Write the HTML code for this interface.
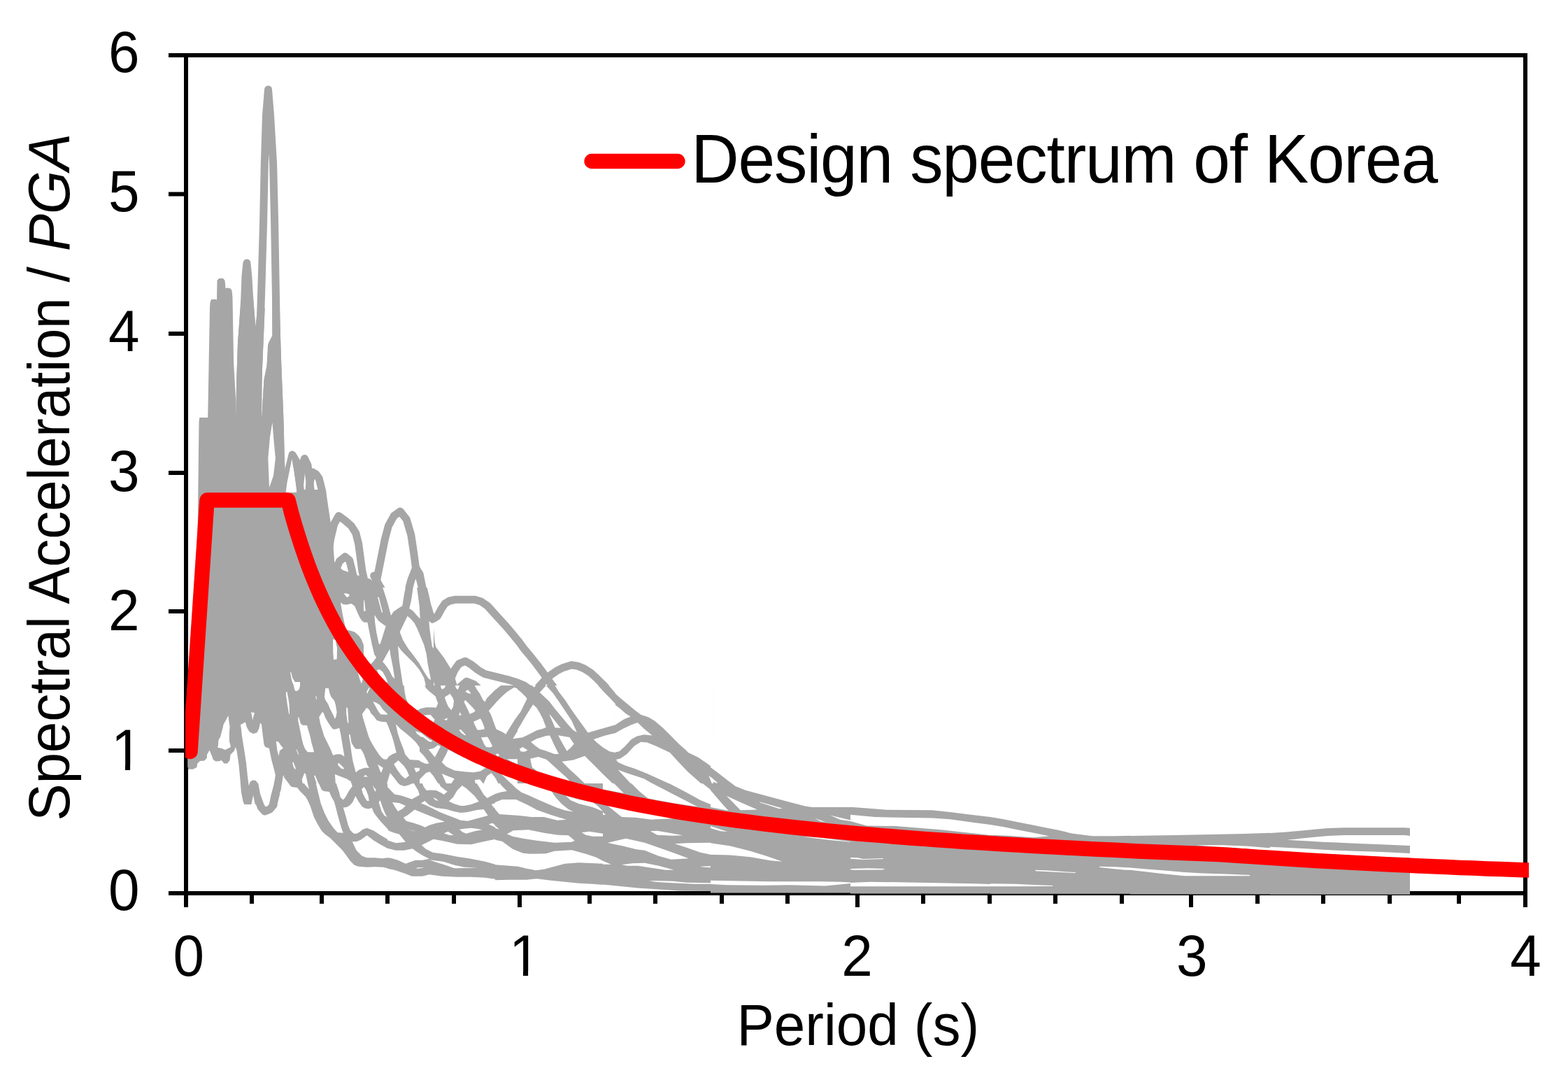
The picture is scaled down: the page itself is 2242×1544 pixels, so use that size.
<!DOCTYPE html>
<html><head><meta charset="utf-8"><title>Spectral Acceleration / PGA vs Period</title>
<style>
html,body{margin:0;padding:0;background:#fff;}
body{width:2242px;height:1544px;overflow:hidden;}
svg{display:block;}
text{font-family:"Liberation Sans",Arial,sans-serif;fill:#000;}
</style></head><body>
<svg width="2242" height="1544" viewBox="0 0 2242 1544" xmlns="http://www.w3.org/2000/svg">
<defs><clipPath id="c1y"><rect x="-10" y="-200" width="400" height="193.3"/><rect x="179.02" y="-20" width="7.07" height="40"/></clipPath><clipPath id="c1x"><rect x="600" y="-200" width="300" height="193.3"/><rect x="748.02" y="-20" width="7.07" height="40"/></clipPath><clipPath id="ht0"><rect x="400" y="980" width="200" height="140"/></clipPath><clipPath id="ht1"><rect x="400" y="840" width="120" height="140"/></clipPath><clipPath id="ht2"><rect x="520" y="840" width="100" height="140"/></clipPath><clipPath id="ht3"><rect x="600" y="980" width="140" height="140"/></clipPath><clipPath id="ht4"><rect x="740" y="980" width="140" height="140"/></clipPath><clipPath id="ht5"><rect x="880" y="980" width="140" height="140"/></clipPath><clipPath id="ht6"><rect x="400" y="1120" width="154" height="154"/></clipPath><clipPath id="ht7"><rect x="554" y="1120" width="154" height="154"/></clipPath><clipPath id="ht8"><rect x="269" y="1010" width="137" height="140"/></clipPath><clipPath id="ht9"><rect x="708" y="1120" width="154" height="154"/></clipPath><clipPath id="ht10"><rect x="862" y="1120" width="154" height="154"/></clipPath><clipPath id="ht11"><rect x="1016" y="1060" width="200" height="216.5"/></clipPath><clipPath id="ht12"><rect x="1216" y="1080" width="200" height="197.5"/></clipPath><clipPath id="ht13"><rect x="1416" y="1080" width="200" height="197.79999999999995"/></clipPath><clipPath id="ht14"><rect x="1616" y="1080" width="200" height="198.5"/></clipPath><clipPath id="ht15"><rect x="1816" y="1080" width="200" height="198.79999999999995"/></clipPath><clipPath id="pa"><rect x="265" y="79" width="1921" height="1200"/></clipPath></defs>
<rect x="0" y="0" width="2242" height="1544" fill="#fff"/>
<g fill="#000">
<rect x="263" y="76" width="1921" height="6"/>
<rect x="263" y="1274" width="1921" height="6"/>
<rect x="263" y="76" width="6" height="1204"/>
<rect x="2178" y="76" width="6" height="1204"/>
<rect x="263" y="1274" width="6" height="23"/>
<rect x="740" y="1274" width="6" height="23"/>
<rect x="1223" y="1274" width="6" height="23"/>
<rect x="1700" y="1274" width="6" height="23"/>
<rect x="2178" y="1274" width="6" height="23"/>
<rect x="357" y="1274" width="6" height="18"/>
<rect x="457" y="1274" width="6" height="18"/>
<rect x="551" y="1274" width="6" height="18"/>
<rect x="646" y="1274" width="6" height="18"/>
<rect x="840" y="1274" width="6" height="18"/>
<rect x="934" y="1274" width="6" height="18"/>
<rect x="1029" y="1274" width="6" height="18"/>
<rect x="1123" y="1274" width="6" height="18"/>
<rect x="1317" y="1274" width="6" height="18"/>
<rect x="1412" y="1274" width="6" height="18"/>
<rect x="1506" y="1274" width="6" height="18"/>
<rect x="1601" y="1274" width="6" height="18"/>
<rect x="1795" y="1274" width="6" height="18"/>
<rect x="1889" y="1274" width="6" height="18"/>
<rect x="1984" y="1274" width="6" height="18"/>
<rect x="2083" y="1274" width="6" height="18"/>
<rect x="241" y="1274" width="25" height="6"/>
<rect x="241" y="1070" width="25" height="6"/>
<rect x="241" y="871" width="25" height="6"/>
<rect x="241" y="673" width="25" height="6"/>
<rect x="241" y="474" width="25" height="6"/>
<rect x="241" y="274.5" width="25" height="6"/>
<rect x="241" y="76" width="25" height="6"/>
</g>
<g clip-path="url(#pa)">
<g fill="none" stroke="#a6a6a6" stroke-width="11" stroke-linejoin="round" stroke-linecap="round">
<polyline points="368.5,600 369.5,527 372,468 373.6,420 376.6,317 378.3,234 380.5,165 383.5,128 386.5,165 390.6,234 392.6,317 394.4,420 395.3,474 396.6,516 397.9,550 399.2,581 400.3,610 401.1,649 403,700"/>
<polyline points="343.5,550 345.5,490 349.7,430 351,395 352.9,376 354.8,395 356.9,430 359.7,466 362,520"/>
<polyline points="380,600 381,575 383,543 387,524 388.5,494 392,520 395,560"/>
<polyline points="405,720 408,700 412,675 418,650 424,660 428,690 432,720"/>
<polyline points="428,700 431,670 435.5,655.5 440,665 443,690 446,720"/>
<polyline points="440,720 443,690 446.8,674.9 452,678 456.2,684.2 460.2,700.3 464.2,727 468.2,753.8 470.9,780.6 473,807"/>
<polyline points="470,790 472.5,771.2 477.7,749.2 484.2,737.6 493.3,744 502.3,751.8 508.8,762.2 512.7,777.7 515.3,797.2 517.9,816.6 521,830"/>
<polyline points="480,815 485.5,802.3 493.3,795.9 499.7,801 503.6,816.6 506.2,829.5 508,840"/>
<polyline points="530,850 535,840 538.6,829.5 541.2,816.6 545.1,797.2 550.3,771.2 555.4,751.8 563.2,737.6 572.3,731.1 581.3,742.7 587.8,764.8 591.7,790.7 594.3,810.1 600.8,829.5 607.3,855.4 613.7,878.8 620,884.4 625.4,880.8 630.9,870.8 636.3,862.7 642.7,859 651.7,857.2 678.9,857.2 688,860 697.1,866.3 706.1,876.3 715.2,886.2 724.3,896.2 733.3,907.1 742.4,918 749.1,927.2 758.1,938.1 767.2,949.4 776.3,961.6 783.5,971.6 790.8,981.6 798.9,992.5 808,1005.2 817.1,1017.9 826.1,1030.5 832.5,1040"/>
<polyline points="347,1128 348.5,1136 352.6,1143.6 356.7,1136 358,1128"/>
<polyline points="367,1130 368.4,1140 373,1153.6 378.4,1160 385.7,1157.2 391.1,1150.9 392.9,1140 394,1130"/>
<polyline points="640.9,960.6 644.5,970.5 649.9,957.9 656.3,948.8 665.3,945.2 674.4,950.6 683.5,957.9 692.5,963.3 710.7,967.8 728.8,972.4 740,976 749.1,979.8 758.1,986.1 767.2,994.3 776.3,1002.4 785.3,1011.5 794.4,1020.6 803.5,1029.7 811.6,1040"/>
<polyline points="620,929.8 630.9,944.3 640.9,960.6 646.3,974.2 648,980"/>
<polyline points="620,957.9 623.6,966.9 627.3,980"/>
<polyline points="658,982 667.1,974.2 678,978.7 684,984"/>
<polyline points="740,1028.7 747.3,1017.9 754.5,1005.2 761.8,993.4 769,983.4 778.1,973.4 787.1,965.3 796.2,958.9 805.3,954.4 817.1,950.8 826.1,952.1 835.2,955.8 844.3,961.6 853.3,969.8 862.4,978.9 871.5,988.4 880,997.9"/>
<polyline points="740,990.7 747.3,995.2 754.5,1000.6 760.9,1006.1 767.2,1012.4 772.6,1019.7 777.2,1028.7 782.6,1040"/>
<polyline points="594.3,812.7 587.8,829.5 582.6,849 578.8,868.4 572.3,873.6 561.9,881.3 555.4,891.7 551.6,900"/>
<polyline points="572.3,873.6 580,875 587.8,878.8 594.3,887.8 598.2,900"/>
<polyline points="594.8,812.4 600,820.4 608.2,860.6 613.5,887.3 616.2,919.4 621.5,940.8 632.2,967.6 643,989"/>
<polyline points="534.7,823 542.5,837.3 551.6,852.8 555.4,868.4 559.3,881.3"/>
</g>
<g fill="#a6a6a6">
<polygon points="300.4,433 302,428 309,428 310,429 310.5,401 313,398 319,398 321.5,401 322.5,412 326,411.5 329.5,412.5 331.5,415 332.5,425 334.1,518.4 337.4,575.4 337,600 297,600 297.2,596 300,440"/>
<polygon points="345,425 362,425 365.2,466.6 368.4,440 378.8,440 377.5,468 376.2,497.7 375,527.5 373.6,560 374.3,597.5 375.6,575.4 377.5,543 381.4,523.6 384,490 389.2,480 389.2,425 399.5,425 400.8,474.4 402.1,515.9 403.4,549.5 404.7,580.6 405.8,610.4 406.6,649 408.7,704 412,715 419,742 433.6,788 457.5,849 481.4,897 505.4,935 529.3,966 553.3,992 560,1000 540,1020 470,1030 462,1017 456,1017 444,1025 427,1025 420,1040 400,1050 380,1040 374,1033 360,1040 344,1033 338,1050 336.6,1068.6 335,1071.7 328.7,1078 327,1087.6 320.7,1090.8 316,1087.6 304.9,1086 299.3,1073.3 293.7,1086 284.2,1087.6 281,1092.4 275,1099 268.3,1097 268,1060 272,1000 280,900 283,730 284.5,602.4 285.3,597 337,597 338,549.5 340,490"/>
<polygon points="415,700 466,700 470,760 474,800 490,815 510,822 530,828 542,840 545,860 520,862 505,858 490,860 483,870 480,900 470,900 420,780"/>
</g>
<g fill="#a6a6a6">
<rect x="400" y="980" width="200" height="140"/>
<rect x="400" y="840" width="120" height="140"/>
<rect x="520" y="840" width="100" height="140"/>
<rect x="600" y="980" width="140" height="140"/>
<rect x="740" y="980" width="140" height="140"/>
<rect x="880" y="980" width="140" height="140"/>
<rect x="400" y="1120" width="154" height="154"/>
<rect x="554" y="1120" width="154" height="154"/>
<rect x="269" y="1010" width="137" height="140"/>
<rect x="708" y="1120" width="154" height="154"/>
<rect x="862" y="1120" width="154" height="154"/>
<rect x="1016" y="1060" width="200" height="216.5"/>
<rect x="1216" y="1080" width="200" height="197.5"/>
<rect x="1416" y="1080" width="200" height="197.79999999999995"/>
<rect x="1616" y="1080" width="200" height="198.5"/>
<rect x="1816" y="1080" width="200" height="198.79999999999995"/>
</g>
<g fill="#fff">
<polygon points="389.4,604 391.5,630 393.9,655 391,680 385,697 383.3,655 386,625"/>
<polygon points="417.4,656 424,700 424,704 408.7,704 410.5,690"/>
<polygon points="311.2,1068.6 313.3,1060 320,1035 326.5,1023 327.3,1040 328,1060 330,1068 322,1072 317,1070"/>
<g clip-path="url(#ht0)"><polygon points="419.95,980.0 429.01,980.0 428.11,984.53 425.39,987.71 422.21,987.71 420.85,984.53"/><polygon points="409.07,989.07 410.43,989.07 412.24,998.13 413.6,1007.2 414.05,1020.8 413.15,1020.8 410.88,1007.2 409.07,994.51"/><polygon points="465.28,983.63 469.81,984.08 471.62,991.79 473.44,996.32 477.97,1001.76 479.78,1007.2 481.6,1018.08 480.69,1023.52 478.88,1028.05 477.06,1023.52 472.53,1014.45 468.9,1006.29 465.28,1000.85 463.92,996.32"/><polygon points="451.22,994.96 452.13,994.96 453.04,999.49 452.13,999.95"/><polygon points="495.19,1011.73 497.01,1011.73 497.91,1023.52 498.37,1033.49 497.01,1033.49 495.19,1020.8"/><polygon points="524.21,989.07 527.83,982.72 528.74,983.63 525.11,991.79"/><polygon points="533.27,1003.12 537.81,1004.48 543.25,1008.11 546.87,1013.54 554.13,1020.8 554.13,1021.7 544.15,1021.25 540.53,1016.26 535.99,1008.11"/><polygon points="517.86,1020.8 524.21,1011.73 527.83,1014.45 530.55,1019.89 534.18,1023.52 538.71,1029.86 545.06,1031.68 552.31,1032.13 555.03,1038.02 557.75,1045.28 560.47,1052.53 563.19,1061.6 565.0,1068.85 566.82,1076.1 561.38,1077.91 555.94,1081.54 553.22,1085.62 548.69,1085.62 545.06,1082.45 541.43,1077.91 535.99,1069.76 529.65,1058.88 526.93,1052.53 524.21,1043.46 521.49,1034.4 518.77,1025.33"/><polygon points="426.29,1025.33 427.2,1025.33 429.92,1034.4 432.64,1036.66 438.98,1037.12 440.8,1043.46 443.52,1052.53 445.33,1061.6 448.05,1070.66 448.96,1075.19 439.89,1075.19 436.26,1070.66 433.54,1064.32 431.73,1057.06 429.92,1048.0 428.11,1038.93 426.29,1030.77"/><polygon points="456.21,1025.33 460.74,1018.08 462.56,1018.98 465.28,1026.24 468.9,1032.58 472.53,1038.02 476.16,1042.56 479.78,1042.56 485.22,1040.74 487.04,1048.9 488.85,1059.78 490.66,1070.66 492.48,1081.54 489.76,1079.73 487.04,1078.37 481.6,1078.37 476.16,1079.73 472.53,1070.66 468.0,1061.6 463.46,1052.53 460.74,1043.46 458.02,1034.4"/><polygon points="498.82,1050.72 500.63,1049.81 502.45,1061.6 506.07,1067.94 508.79,1070.66 516.05,1070.66 519.67,1077.01 522.39,1084.26 525.11,1093.33 527.83,1097.86 521.49,1097.86 513.33,1100.58 508.79,1104.21 506.98,1097.86 504.26,1086.98 502.45,1075.19 500.63,1061.6"/><polygon points="565.91,1035.3 572.26,1041.65 581.32,1048.9 588.58,1055.25 594.92,1061.6 600.0,1068.85 600.0,1086.98 585.86,1086.07 579.51,1078.82 576.79,1070.66 572.26,1058.88 568.63,1048.0"/><polygon points="577.7,980.0 600.0,980.0 600.0,1014.45 594.92,1015.36 590.39,1010.83 584.04,1006.29 580.42,998.13 578.6,989.07"/><polygon points="594.02,1045.28 600.0,1047.09 600.0,1051.62 596.74,1049.81"/><polygon points="563.19,1092.42 569.54,1086.98 577.7,1095.14 581.32,1100.58 584.95,1108.74 579.51,1113.27 574.07,1108.74 568.63,1101.49"/><polygon points="540.07,1092.87 547.78,1097.86 545.06,1105.11 543.25,1101.49"/><polygon points="592.2,1097.86 600.0,1097.86 600.0,1101.49 594.92,1104.21"/><polygon points="483.41,1090.61 485.22,1091.51 491.57,1097.86 491.57,1099.67 487.94,1098.77 483.41,1094.23"/><polygon points="400.0,1065.22 404.53,1068.85 400.0,1073.38"/><polygon points="418.13,1089.7 419.49,1089.7 422.67,1097.86 422.21,1100.58 419.49,1096.05"/><polygon points="423.57,1071.57 424.48,1071.57 427.2,1078.82 426.29,1078.82"/><polygon points="519.67,1110.55 522.39,1107.83 526.02,1110.55"/><polygon points="478.88,1106.93 486.13,1109.65 495.19,1113.27 501.54,1116.9 502.45,1119.98 479.78,1119.98"/><polygon points="553.22,1119.98 557.75,1105.11 563.19,1111.46 569.54,1119.98"/><polygon points="431.73,1114.18 435.36,1105.11 437.17,1106.93 439.89,1119.98 432.64,1119.98"/><polygon points="403.63,1119.98 405.44,1110.55 411.79,1118.71 412.69,1119.98"/><polygon points="448.96,1108.74 450.77,1108.74 455.3,1119.98 452.58,1119.98"/></g>
<g clip-path="url(#ht1)"><polygon points="491.57,848.16 496.1,848.61 499.73,849.97 498.82,852.69 496.1,854.05 493.38,850.88"/><polygon points="487.04,861.31 490.66,864.03 495.19,864.48 502.45,863.12 506.98,866.29 510.61,874.45 514.23,882.61 517.86,888.05 525.11,890.77 526.02,898.02 528.74,910.72 531.46,921.6 534.18,930.66 537.81,938.82 535.09,944.26 530.55,949.7 526.93,943.35 523.3,933.38 519.67,921.6 516.95,914.34 513.33,908.9 506.98,903.46 501.54,901.65 496.1,900.74 494.29,898.02 492.48,890.77 489.76,878.08 487.94,867.2"/><polygon points="476.16,913.44 479.78,915.25 482.05,927.04 481.6,942.45 477.06,942.9 476.16,930.66"/><polygon points="414.96,961.03 416.32,961.49 418.13,968.74 421.76,975.09 429.01,975.09 429.01,979.98 419.95,979.98 417.23,973.27"/><polygon points="511.51,960.58 518.77,970.55 516.95,977.81 514.23,970.55"/></g>
<g clip-path="url(#ht2)"><polygon points="547.2,840.0 579.84,840.0 578.02,849.07 575.3,866.29 568.96,869.92 562.61,874.45 558.98,879.89 554.45,862.67 550.83,850.88"/><polygon points="590.72,840.0 596.16,840.0 597.97,853.6 599.78,867.2 600.69,884.42 596.16,879.89 590.72,873.54 585.28,869.92 588.0,858.13"/><polygon points="610.66,840.0 620.0,840.0 620.0,876.26 616.1,863.57 613.38,850.88"/><polygon points="520.0,858.13 520.91,858.13 522.72,873.54 520.0,873.54"/><polygon points="539.95,853.6 541.76,854.05 547.2,875.36 545.84,875.81"/><polygon points="535.41,878.98 540.85,887.14 545.39,890.77 551.73,895.3 549.01,903.46 546.29,912.53 543.57,920.69 541.76,920.69 538.13,903.46 536.32,890.77"/><polygon points="520.0,889.86 525.44,889.86 528.16,903.46 531.79,921.6 535.41,936.1 538.13,939.73 533.6,946.07 529.97,949.7 525.44,944.26 521.81,939.73 520.0,937.91"/><polygon points="571.68,903.46 582.56,880.8 587.09,884.42 592.53,890.77 597.06,899.84 601.6,910.72 606.13,921.6 609.76,935.19 611.57,948.79 614.29,962.39 616.1,972.37 612.48,969.65 607.04,961.49 599.78,948.79 592.53,938.82 583.46,927.04 576.21,915.25"/><polygon points="613.38,888.05 617.01,890.77 620.0,890.77 620.0,927.04 617.91,924.32 616.1,912.53 614.29,898.93"/><polygon points="568.96,923.41 574.4,930.66 583.46,939.73 592.53,948.79 599.78,957.86 606.13,968.74 608.85,979.98 576.21,979.98 573.49,962.39 570.77,944.26"/><polygon points="547.2,946.07 557.17,927.94 558.98,939.73 561.7,953.33 564.42,970.55 560.8,966.93 556.26,957.86 551.73,951.51"/><polygon points="539.04,957.86 542.67,956.95 547.2,960.58 551.73,968.74 554.45,975.99 549.92,974.18 542.67,966.93"/></g>
<g clip-path="url(#ht3)"><polygon points="600.0,980.0 607.25,980.0 609.07,983.63 614.51,989.07 622.67,995.41 624.48,1000.85 626.29,1005.39 623.57,1011.73 618.13,1011.28 609.07,1011.28 600.0,1013.54"/><polygon points="629.92,980.0 637.17,980.0 636.26,982.72 632.64,985.44 630.83,983.63"/><polygon points="650.77,980.0 657.12,980.0 655.3,984.53 654.4,985.89 652.13,983.63"/><polygon points="678.88,980.0 716.05,980.0 706.98,987.25 701.54,992.69 696.1,998.13 693.38,1003.57 690.66,1000.85 686.13,991.79 681.6,985.44"/><polygon points="735.09,982.72 739.98,984.53 739.98,1023.52 735.99,1028.96 731.46,1036.21 726.93,1043.46 723.3,1049.81 717.86,1046.18 709.7,1042.56 707.89,1038.02 704.26,1028.05 701.54,1020.8 698.82,1016.26 704.26,1009.92 710.61,1002.67 717.86,995.41 725.11,989.07"/><polygon points="665.28,988.61 668.9,985.89 672.53,989.97 673.44,991.79 668.9,990.88"/><polygon points="635.81,996.77 643.52,991.79 647.14,997.23 648.96,1001.76 648.05,1009.92 645.33,1015.36 640.8,1009.92 638.08,1003.57"/><polygon points="663.46,1003.57 665.28,1000.85 670.72,1006.29 675.25,1010.83 679.78,1016.26 676.16,1018.98 671.62,1020.8 668.9,1014.45 666.18,1009.01"/><polygon points="656.21,1022.61 657.57,1018.08 659.84,1022.61"/><polygon points="634.45,1028.96 639.89,1026.24 638.98,1029.86"/><polygon points="677.06,1031.68 687.04,1027.14 689.76,1032.58 692.48,1039.84 692.48,1042.56 686.13,1043.46 682.5,1043.46 678.88,1036.21"/><polygon points="606.35,1022.61 615.41,1021.7 621.76,1028.96 619.95,1032.13 616.32,1030.77 609.07,1026.24"/><polygon points="656.21,1043.46 658.93,1043.01 666.18,1050.72 664.37,1051.17 659.84,1048.0"/><polygon points="687.94,1054.34 697.01,1053.44 699.73,1057.97 704.26,1067.04 700.63,1068.4 695.19,1067.94 692.48,1064.32"/><polygon points="733.27,1056.16 739.98,1045.28 739.98,1055.25"/><polygon points="600.0,1047.54 601.81,1047.54 608.16,1052.53 613.6,1057.06 618.13,1058.88 616.32,1060.69 612.69,1059.78 605.44,1054.34 600.0,1052.53"/><polygon points="612.69,1071.57 619.95,1069.76 626.29,1065.22 629.92,1067.04 625.39,1076.1 621.76,1082.45 618.13,1077.91"/><polygon points="600.0,1074.29 605.44,1079.73 610.88,1086.98 613.6,1091.51 609.07,1091.97 603.63,1089.7 600.0,1087.89"/><polygon points="631.73,1089.7 638.08,1077.91 640.8,1071.57 654.4,1078.82 672.53,1086.98 686.13,1092.42 695.19,1096.95 687.04,1102.39 677.06,1104.21 663.46,1103.3 649.86,1101.49 638.08,1096.05"/><polygon points="708.79,1078.82 711.51,1077.01 714.23,1079.73 711.51,1081.54"/><polygon points="725.11,1085.17 739.98,1085.17 739.98,1092.42 731.46,1088.79"/><polygon points="600.0,1114.18 609.07,1105.11 614.51,1103.3 619.95,1109.65 626.29,1119.98 600.0,1119.98"/><polygon points="631.73,1106.02 640.8,1109.65 649.86,1113.27 645.33,1119.98 638.08,1119.98"/><polygon points="678.88,1115.09 686.13,1114.18 690.66,1119.98 679.78,1119.98"/><polygon points="696.1,1109.65 702.45,1105.11 707.89,1111.46 712.42,1119.98 691.57,1119.98"/><polygon points="716.95,1106.93 726.93,1110.55 739.98,1115.09 739.98,1119.98 730.55,1119.98"/></g>
<g clip-path="url(#ht4)"><polygon points="740.0,985.44 745.44,989.97 751.79,996.32 753.6,999.04 749.97,1006.29 744.53,1017.17 740.0,1023.52"/><polygon points="760.85,980.0 766.29,980.0 763.57,982.72"/><polygon points="771.73,989.97 780.8,980.0 790.77,990.88 798.93,1002.67 808.0,1016.26 817.06,1029.86 824.77,1046.64 819.78,1043.92 812.53,1036.21 803.46,1025.33 794.4,1014.45 785.33,1002.67"/><polygon points="793.49,980.0 855.14,980.0 863.3,989.07 872.37,998.13 879.98,1006.29 879.98,1036.21 857.86,1042.56 840.63,1047.54 835.19,1039.84 826.13,1027.14 817.06,1014.45 808.0,1000.85 798.93,989.07"/><polygon points="870.55,980.0 879.98,980.0 879.98,990.88"/><polygon points="762.21,1007.2 767.2,1011.73 771.73,1018.98 776.26,1028.05 780.8,1039.84 776.26,1041.65 767.2,1044.37 758.13,1048.9 747.25,1054.34 740.0,1055.25 740.0,1043.46 745.44,1034.4 751.79,1023.52 758.13,1013.54"/><polygon points="785.33,1021.25 787.14,1022.61 794.4,1031.68 801.65,1040.74 793.49,1040.29 790.77,1033.49"/><polygon points="759.04,1060.69 767.2,1056.16 780.8,1052.08 786.24,1051.62 790.77,1061.6 795.3,1070.66 798.93,1077.91 792.58,1077.91 780.8,1073.38 771.73,1070.66 765.39,1066.13"/><polygon points="798.02,1051.17 814.34,1053.89 820.69,1063.41 817.06,1067.94 810.72,1073.83 806.18,1066.13 801.65,1057.97"/><polygon points="742.72,1070.66 747.25,1067.94 754.51,1072.48 749.97,1074.74 744.53,1074.29"/><polygon points="848.79,1057.06 865.11,1051.62 879.98,1048.0 879.98,1076.1 871.46,1074.29 862.39,1068.85 853.33,1061.6"/><polygon points="758.13,1084.71 769.92,1081.99 781.7,1086.07 790.77,1094.23 799.84,1102.39 808.9,1110.55 817.97,1119.98 786.24,1119.98 778.08,1111.46 769.01,1103.3 760.85,1096.95"/><polygon points="803.46,1088.79 819.78,1086.53 836.1,1080.63 848.79,1093.33 862.39,1106.93 875.99,1119.98 836.1,1119.98 826.13,1110.55 814.34,1099.67"/></g>
<g clip-path="url(#ht5)"><polygon points="880.0,980.0 1019.98,980.0 1019.98,1097.86 1009.65,1090.61 997.86,1082.45 984.26,1076.1 979.73,1071.57 970.66,1063.41 959.78,1052.53 948.0,1040.74 936.21,1030.77 927.14,1025.33 916.26,1021.7 909.01,1016.26 898.13,1007.2 887.25,998.13 880.0,991.79"/><polygon points="880.0,1008.11 887.25,1013.54 894.51,1019.89 901.76,1024.42 892.69,1028.05 885.44,1032.58 880.0,1036.21"/><polygon points="880.0,1048.0 890.88,1041.65 902.67,1036.21 911.73,1033.04 920.8,1041.65 932.58,1051.62 920.8,1050.26 910.83,1052.53 902.67,1057.06 893.6,1067.04 885.44,1074.29 880.0,1075.19"/><polygon points="880.91,1086.07 887.25,1084.26 896.32,1077.91 907.2,1066.13 916.26,1060.69 925.33,1061.6 938.93,1067.04 957.97,1076.1 968.85,1087.89 983.35,1103.3 997.86,1115.99 1002.39,1119.98 956.16,1119.98 943.46,1114.18 925.33,1106.02 907.2,1098.77 893.6,1094.23 883.63,1089.7"/><polygon points="883.63,1100.58 893.6,1104.21 907.2,1108.74 920.8,1113.27 932.58,1119.98 901.76,1119.98 894.51,1112.37"/><polygon points="1013.27,1108.74 1019.98,1114.18 1019.98,1119.98 1017.81,1119.98"/></g>
<g clip-path="url(#ht6)"><polygon points="402.99,1120.0 412.97,1120.0 413.96,1121.99 416.96,1124.99 424.94,1125.98 428.92,1130.97 436.9,1138.95 439.9,1143.94 443.89,1152.91 448.87,1167.88 453.86,1177.85 459.84,1187.82 464.83,1192.81 471.81,1197.8 476.8,1202.78 481.79,1207.77 489.77,1215.75 495.75,1223.73 500.74,1230.71 506.72,1236.7 512.71,1238.69 524.68,1239.69 535.65,1239.19 547.62,1239.69 554.0,1241.18 554.0,1274.0 400.0,1274.0 400.0,1133.96 401.99,1129.97"/><polygon points="434.91,1120.0 439.9,1120.0 441.89,1127.98 437.9,1123.99"/><polygon points="451.87,1120.0 455.85,1120.0 459.84,1128.98 462.84,1130.97 470.82,1131.97 473.81,1138.95 477.8,1145.93 479.79,1152.91 482.78,1164.88 485.78,1175.85 488.77,1185.83 490.76,1190.82 482.78,1190.32 476.8,1183.83 469.82,1173.86 463.83,1161.89 458.85,1148.92 454.86,1132.97"/><polygon points="480.79,1120.0 502.73,1120.0 503.73,1123.99 498.74,1130.97 493.76,1139.95 490.76,1143.44 486.77,1139.95 484.78,1131.97 482.78,1125.98"/><polygon points="517.2,1127.98 520.69,1124.99 523.68,1129.97 526.67,1137.95 527.67,1144.94 524.68,1144.94 521.68,1139.95 518.69,1133.96"/><polygon points="532.66,1122.99 537.64,1128.98 536.64,1131.97 534.65,1127.98"/><polygon points="490.76,1154.41 495.75,1153.91 500.74,1150.92 504.73,1145.93 508.22,1137.95 512.71,1145.93 517.69,1152.91 521.68,1155.41 526.67,1156.41 531.66,1154.91 534.65,1161.89 539.64,1168.87 544.62,1174.86 554.0,1184.83 554.0,1199.79 543.63,1193.81 534.65,1187.82 524.68,1183.83 518.69,1185.83 513.7,1189.82 509.71,1191.81 505.73,1191.81 500.74,1186.83 497.75,1179.84 494.75,1167.88"/><polygon points="541.63,1146.93 543.63,1143.94 546.62,1152.91 550.61,1162.89 553.6,1167.88 549.61,1165.88 545.62,1159.9"/><polygon points="503.73,1203.28 509.71,1203.28 515.7,1200.79 524.68,1194.31 534.65,1201.79 544.62,1207.77 554.0,1212.76 554.0,1226.22 546.62,1227.22 535.65,1226.22 524.68,1226.22 517.69,1223.73 509.71,1215.75"/></g>
<g clip-path="url(#ht7)"><polygon points="554.0,1120.0 569.96,1120.0 571.95,1121.99 577.94,1123.99 583.92,1122.49 589.91,1120.0 591.9,1120.0 597.89,1129.97 599.88,1136.46 588.91,1142.44 573.95,1137.45 563.97,1135.46 554.0,1124.99"/><polygon points="603.87,1120.0 627.81,1120.0 629.8,1123.99 635.79,1128.98 639.78,1131.47 634.79,1135.96 631.8,1133.96 623.82,1129.97 615.84,1129.48 609.85,1129.97 605.87,1124.99"/><polygon points="641.77,1145.43 647.76,1139.95 653.74,1129.97 660.72,1122.99 666.71,1126.98 678.68,1137.95 684.66,1145.93 673.69,1149.92 663.71,1151.92 658.73,1151.92 648.75,1148.92"/><polygon points="681.67,1120.0 708.0,1120.0 708.0,1134.96 696.63,1140.95 691.64,1135.96 685.66,1125.98"/><polygon points="702.61,1149.92 708.0,1147.93 708.0,1155.91 705.61,1153.91"/><polygon points="560.98,1146.93 570.96,1147.93 579.93,1151.92 575.94,1155.91 568.96,1159.9 564.97,1153.91"/><polygon points="618.83,1139.95 623.82,1141.94 626.81,1144.94 622.82,1143.94"/><polygon points="601.88,1148.43 607.36,1144.94 613.84,1150.92 623.82,1154.91 638.78,1156.9 648.75,1159.9 658.73,1161.89 668.7,1160.89 681.67,1157.9 691.64,1156.9 697.63,1165.88 683.66,1169.87 668.7,1173.86 658.73,1172.86 648.75,1168.87 638.78,1164.88 628.81,1160.89 618.83,1155.91 608.86,1150.92"/><polygon points="576.94,1168.87 581.93,1165.88 592.9,1157.4 603.87,1161.89 618.83,1167.88 635.79,1174.86 623.82,1176.85 613.84,1179.84 607.86,1182.84 600.88,1179.84 591.9,1176.85 580.93,1173.86"/><polygon points="581.93,1185.33 593.9,1188.82 591.9,1187.82 583.92,1185.83"/><polygon points="634.79,1191.31 640.77,1188.82 648.75,1194.31 641.77,1193.81"/><polygon points="656.73,1185.83 663.71,1184.83 673.69,1183.83 681.67,1184.83 689.65,1186.33 678.68,1188.32 666.71,1191.81 661.72,1189.82"/><polygon points="698.62,1178.35 704.61,1176.85 708.0,1179.84 708.0,1182.84 703.61,1180.84"/><polygon points="554.0,1184.83 555.99,1187.82 563.97,1190.82 570.96,1192.81 579.93,1203.78 565.97,1205.28 554.0,1201.29"/><polygon points="602.87,1208.27 619.83,1199.79 633.79,1202.29 653.74,1206.77 673.69,1207.27 688.65,1203.78 708.0,1199.79 708.0,1235.7 693.64,1231.71 673.69,1227.72 653.74,1224.73 633.79,1220.74 618.83,1218.74 608.86,1213.76"/><polygon points="554.0,1212.76 565.97,1215.75 577.94,1215.75 589.91,1213.26 595.89,1217.75 603.87,1222.73 613.84,1227.72 603.87,1229.71 593.9,1229.71 579.93,1234.7 568.96,1229.71 558.99,1226.72 554.0,1226.22"/><polygon points="594.89,1241.68 596.89,1240.19 606.86,1240.19 601.88,1241.18"/><polygon points="613.84,1229.22 633.79,1231.71 649.75,1236.7 663.71,1239.69 682.67,1240.69 649.75,1241.18 633.79,1235.7 623.82,1232.71"/><polygon points="554.0,1241.68 563.97,1243.68 578.94,1248.67 588.91,1252.66 603.87,1252.66 613.84,1250.16 631.8,1252.66 653.74,1253.65 673.69,1253.65 693.64,1254.65 708.0,1256.64 708.0,1274.0 554.0,1274.0"/></g>
<g clip-path="url(#ht8)"><polygon points="358.93,1018.16 363.91,1019.07 362.1,1025.41 361.19,1029.95 360.29,1023.6"/><polygon points="312.24,1059.86 313.14,1056.24 316.77,1052.61 318.58,1046.26 319.49,1036.29 324.02,1030.85 326.29,1024.05 328.56,1039.01 327.65,1051.7 326.74,1060.77 321.3,1064.4 319.49,1068.93 312.24,1068.93"/><polygon points="343.97,1036.29 350.77,1032.21 353.04,1039.92 356.66,1046.26 362.1,1048.98 367.54,1047.17 370.26,1041.73 372.07,1033.57 373.89,1035.39 375.7,1050.8 377.51,1064.4 379.33,1068.02 384.77,1069.84 388.39,1087.06 392.02,1100.66 393.83,1107.91 392.93,1114.26 391.11,1123.33 387.49,1136.93 384.77,1149.98 377.51,1149.98 372.07,1135.11 369.35,1120.61 365.73,1116.07 361.19,1115.17 357.57,1117.89 355.76,1123.33 353.94,1109.73 352.13,1091.6 349.41,1073.46 347.6,1062.58 345.78,1050.8 344.88,1041.73"/><polygon points="359.38,1149.98 362.1,1136.93 364.82,1149.98"/><polygon points="394.74,1059.86 398.37,1060.77 401.99,1066.21 404.71,1069.84 400.18,1072.56 398.37,1080.72 396.55,1073.46"/><polygon points="396.55,1149.98 401.99,1127.86 404.71,1109.73 405.98,1107.91 405.98,1149.98"/><polygon points="268.27,1099.76 275.97,1099.76 281.41,1097.04 282.32,1091.6 285.95,1087.97 292.29,1087.52 295.92,1083.44 295.92,1078.9 299.54,1072.56 302.26,1078.9 304.98,1086.16 308.61,1088.42 314.05,1087.97 316.77,1087.06 320.4,1091.6 324.93,1091.6 328.56,1087.06 329.46,1078.9 334.9,1073.46 336.72,1068.02 338.53,1073.46 341.25,1091.6 343.06,1109.73 344.88,1132.39 347.6,1145.99 349.41,1149.98 266.0,1149.98 266.0,1099.76"/></g>
<g clip-path="url(#ht9)"><polygon points="708.0,1120.0 714.98,1120.0 716.98,1122.99 724.96,1130.97 715.98,1132.47 708.0,1134.96"/><polygon points="730.94,1120.0 754.88,1120.0 787.79,1129.97 793.78,1138.95 802.75,1148.92 812.73,1156.9 819.71,1160.39 807.74,1158.4 795.77,1154.41 782.81,1148.92 767.84,1142.44 755.88,1136.96 745.9,1132.97 737.92,1126.98"/><polygon points="808.74,1137.45 827.69,1142.94 847.64,1146.93 855.62,1152.91 862.0,1159.9 847.64,1153.91 827.69,1148.92 815.72,1143.94"/><polygon points="708.0,1146.93 717.97,1142.94 737.92,1142.94 752.88,1149.92 767.84,1157.9 787.79,1164.88 809.74,1171.87 796.77,1172.86 777.82,1167.88 759.87,1167.88 742.91,1165.88 713.98,1163.89 708.0,1156.9"/><polygon points="708.0,1180.84 711.99,1183.83 712.99,1185.83 708.0,1183.83"/><polygon points="724.96,1192.31 733.93,1187.32 755.88,1186.33 777.82,1190.82 797.77,1193.81 812.73,1194.31 821.7,1201.79 817.71,1203.78 792.78,1204.78 767.84,1201.79 747.9,1198.8 732.94,1195.8"/><polygon points="831.68,1190.32 842.65,1188.82 862.0,1191.81 862.0,1195.8 847.64,1195.8 837.66,1193.81"/><polygon points="708.0,1200.79 717.97,1202.78 732.94,1213.76 747.9,1219.74 757.87,1220.74 780.81,1220.24 792.78,1216.75 817.71,1215.25 837.66,1220.74 852.62,1225.73 862.0,1230.71 862.0,1234.7 827.69,1233.21 807.74,1234.7 792.78,1238.69 777.82,1242.68 765.85,1244.18 752.88,1241.68 740.91,1238.69 727.95,1237.69 708.0,1236.2"/><polygon points="708.0,1258.14 727.95,1257.64 752.88,1257.64 767.84,1256.15 787.79,1258.64 807.74,1260.63 827.69,1262.63 847.64,1263.63 862.0,1265.12 862.0,1274.0 708.0,1274.0"/></g>
<g clip-path="url(#ht10)"><polygon points="862.0,1120.0 877.96,1120.0 891.92,1133.96 862.0,1128.48"/><polygon points="902.89,1120.0 932.82,1120.0 961.74,1134.96 996.65,1152.91 1015.6,1155.91 961.74,1147.93 926.83,1141.44 914.86,1131.97"/><polygon points="956.75,1120.0 1004.63,1120.0 1016.0,1128.98 1016.0,1149.92 1001.64,1143.94 981.69,1132.97"/><polygon points="868.98,1151.92 888.93,1167.88 908.88,1168.87 931.82,1171.87 937.8,1171.37 961.74,1170.37 941.79,1164.88 911.87,1158.9 881.95,1152.91"/><polygon points="862.0,1160.89 865.99,1164.88 862.0,1164.88"/><polygon points="929.82,1188.32 939.8,1187.82 951.77,1189.82 976.7,1194.31 961.74,1194.81 939.8,1193.81"/><polygon points="868.98,1204.78 894.91,1198.8 921.84,1204.78 941.79,1211.76 961.74,1218.74 984.68,1227.22 959.75,1228.72 941.79,1223.73 921.84,1215.75 909.88,1214.25 891.92,1209.77 876.96,1206.77"/><polygon points="964.73,1206.28 981.69,1205.28 1016.0,1204.78 1016.0,1221.74 1001.64,1218.74 981.69,1211.76"/><polygon points="862.0,1230.71 873.97,1235.7 862.0,1235.7"/><polygon points="888.93,1236.2 903.89,1234.2 921.84,1233.7 941.79,1237.69 963.74,1243.68 951.77,1243.68 931.82,1240.69 911.87,1237.69 896.91,1237.69"/><polygon points="1000.64,1238.69 1016.0,1238.19 1016.0,1240.19 1006.62,1239.69"/><polygon points="927.83,1259.14 941.79,1259.14 961.74,1259.64 981.69,1261.63 1016.0,1262.13 1016.0,1263.63 991.66,1263.63 971.71,1262.63 951.77,1261.63 936.81,1260.63"/><polygon points="862.0,1264.62 881.95,1266.62 911.87,1269.61 941.79,1271.61 971.71,1273.6 1016.0,1274.0 862.0,1274.0"/></g>
<g clip-path="url(#ht11)"><polygon points="1016.0,1060.0 1216.0,1060.0 1216.0,1154.02 1161.3,1154.02 1151.33,1152.59 1129.96,1146.89 1108.59,1141.2 1087.23,1135.5 1065.86,1129.8 1051.61,1124.1 1040.22,1115.56 1027.4,1105.58 1016.0,1097.04"/><polygon points="1016.0,1110.57 1025.97,1119.12 1024.55,1119.83 1016.0,1115.56"/><polygon points="1016.0,1129.8 1024.55,1139.77 1034.52,1151.17 1041.64,1159.0 1016.0,1154.02"/><polygon points="1038.79,1137.64 1058.74,1146.89 1082.95,1157.58 1058.74,1158.29"/><polygon points="1085.8,1146.18 1118.56,1155.44 1114.29,1156.15 1087.23,1147.61"/><polygon points="1186.94,1165.41 1216.0,1172.54 1216.0,1173.96 1201.19,1171.82"/><polygon points="1164.86,1169.69 1181.24,1175.38 1172.7,1173.96"/><polygon points="1016.0,1181.08 1040.22,1188.92 1030.25,1188.21 1016.0,1183.93"/><polygon points="1148.48,1196.04 1172.7,1197.46 1216.0,1203.16 1216.0,1203.87 1186.94,1201.03 1158.45,1197.46"/><polygon points="1016.0,1205.3 1044.49,1209.57 1072.98,1216.7 1095.77,1223.82 1118.56,1231.65 1101.47,1230.23 1072.98,1225.24 1044.49,1222.39 1016.0,1221.68"/><polygon points="1016.0,1258.72 1058.74,1259.43 1101.47,1260.14 1144.21,1260.14 1172.7,1260.14 1201.19,1260.85 1216.0,1261.57 1216.0,1262.99 1179.82,1266.55 1129.96,1265.13 1090.07,1265.84 1040.22,1265.13 1016.0,1263.99"/></g>
<g clip-path="url(#ht12)"><polygon points="1216.0,1080.0 1416.0,1080.0 1416.0,1168.08 1384.39,1164.2 1358.49,1160.96 1332.58,1158.37 1267.81,1157.72 1236.73,1155.13 1216.0,1153.83"/><polygon points="1216.0,1164.84 1250.97,1168.08 1332.58,1169.38 1358.49,1171.32 1390.87,1175.85 1416.0,1179.09 1416.0,1193.99 1345.53,1186.22 1280.77,1181.04 1239.32,1180.39 1216.0,1173.91"/><polygon points="1216.0,1226.11 1226.36,1226.37 1234.13,1227.93 1262.63,1227.02 1262.63,1227.93 1234.13,1228.96 1216.0,1227.67"/><polygon points="1216.0,1241.92 1241.91,1241.27 1265.87,1241.92 1261.34,1243.47 1221.18,1243.86 1216.0,1243.21"/><polygon points="1216.0,1261.99 1244.5,1260.7 1326.1,1261.99 1392.17,1263.29 1416.0,1263.94 1416.0,1267.18 1216.0,1267.18"/></g>
<g clip-path="url(#ht13)"><polygon points="1416.0,1080.0 1616.0,1080.0 1616.0,1194.64 1593.46,1195.28 1562.37,1195.28 1552.01,1193.99 1532.58,1191.4 1513.15,1186.87 1493.72,1182.98 1474.29,1179.09 1454.86,1175.21 1435.43,1171.32 1416.0,1168.08"/><polygon points="1416.0,1179.09 1435.43,1182.33 1454.86,1186.22 1474.29,1190.1 1500.2,1195.28 1478.18,1197.23 1458.75,1195.93 1441.91,1194.64 1423.77,1193.99 1416.0,1193.99"/><polygon points="1480.12,1243.86 1498.9,1244.51 1526.1,1246.45 1537.76,1247.1 1537.76,1248.01 1509.26,1246.84 1480.77,1245.16"/><polygon points="1571.44,1238.68 1593.46,1239.33 1616.0,1240.62 1616.0,1243.86 1609.01,1243.86 1590.87,1241.92 1572.74,1239.97"/><polygon points="1416.0,1263.29 1452.27,1263.68 1483.36,1265.23 1505.38,1265.88 1505.38,1266.92 1454.86,1267.18 1416.0,1267.18"/></g>
<g clip-path="url(#ht14)"><polygon points="1616.0,1080.0 1816.0,1080.0 1816.0,1190.75 1777.92,1192.05 1731.28,1192.95 1678.18,1193.99 1616.0,1195.03"/><polygon points="1710.56,1208.24 1748.12,1208.24 1781.8,1209.53 1811.6,1212.12 1816.0,1212.12 1816.0,1216.01 1794.76,1214.72 1764.96,1212.12 1737.76,1210.83"/><polygon points="1616.0,1240.62 1639.32,1242.56 1665.22,1244.51 1693.72,1247.1 1719.63,1248.39 1758.49,1249.69 1786.98,1250.98 1786.98,1252.28 1758.49,1252.28 1693.72,1252.28 1661.34,1249.04 1616.0,1243.86"/></g>
<g clip-path="url(#ht15)"><polygon points="1816.0,1080.0 2016.0,1080.0 2016.0,1183.63 2007.71,1183.37 1922.22,1183.37 1898.9,1184.02 1884.65,1185.18 1871.7,1186.48 1861.34,1187.51 1849.68,1188.42 1839.32,1189.46 1827.66,1190.36 1816.0,1191.01"/><polygon points="1839.96,1200.47 1850.97,1199.82 1861.34,1198.52 1871.7,1197.62 1884.65,1196.19 1898.9,1194.9 1922.22,1193.99 2009.01,1193.99 2016.0,1194.9 2016.0,1208.89 1986.98,1207.85 1962.37,1206.68 1936.47,1205.65 1911.85,1204.61 1891.13,1203.7 1871.7,1202.41 1852.27,1201.5"/><polygon points="1816.0,1210.83 1832.84,1211.48 1852.27,1212.38 1871.7,1213.42 1891.13,1214.72 1911.85,1215.75 1936.47,1216.66 1962.37,1217.56 1986.98,1218.6 2016.0,1219.9 2016.0,1226.37 1945.53,1223.78 1880.77,1219.9 1816.0,1216.01"/></g>
</g>
<polyline points="272,1074.5 296,715 412,715 416.8,733.8 421.6,750.5 426.4,766.2 431.2,781.0 436.0,795.0 440.7,808.2 445.5,820.7 450.3,832.5 455.1,843.8 459.9,854.5 464.7,864.7 469.5,874.4 474.3,883.6 479.0,892.5 483.8,900.9 488.6,909.0 493.4,916.8 498.2,924.2 503.0,931.3 507.8,938.2 512.6,944.7 517.3,951.1 522.1,957.2 526.9,963.0 531.7,968.7 536.5,974.1 541.3,979.4 546.1,984.5 550.9,989.4 555.6,994.2 560.4,998.8 565.2,1003.2 570.0,1007.5 574.8,1011.7 579.6,1015.8 584.4,1019.7 589.2,1023.5 593.9,1027.2 598.7,1030.8 603.5,1034.3 608.3,1037.7 613.1,1041.0 617.9,1044.2 622.7,1047.3 627.5,1050.4 632.2,1053.3 637.0,1056.2 641.8,1059.0 646.6,1061.8 651.4,1064.4 656.2,1067.0 661.0,1069.6 665.8,1072.1 670.5,1074.5 675.3,1076.9 680.1,1079.2 684.9,1081.4 689.7,1083.6 694.5,1085.8 699.3,1087.9 704.1,1090.0 708.8,1092.0 713.6,1094.0 718.4,1095.9 723.2,1097.8 728.0,1099.7 732.8,1101.5 737.6,1103.3 742.4,1105.0 747.1,1106.7 766.3,1113.3 785.4,1119.3 804.6,1124.9 823.7,1130.1 842.9,1135.0 862.0,1139.6 881.2,1143.8 900.3,1147.9 919.5,1151.6 938.6,1155.2 957.8,1158.6 976.9,1161.8 996.1,1164.8 1015.2,1167.7 1034.4,1170.4 1053.5,1173.0 1072.7,1175.4 1091.8,1177.8 1111.0,1180.0 1130.1,1182.2 1149.3,1184.3 1168.4,1186.2 1187.6,1188.1 1206.7,1189.9 1225.9,1191.7 1245.0,1193.3 1264.2,1194.9 1283.3,1196.5 1302.5,1198.0 1321.6,1199.4 1340.8,1200.8 1359.9,1202.1 1379.1,1203.4 1398.2,1204.6 1417.4,1205.8 1436.5,1207.0 1455.7,1208.1 1474.8,1209.2 1494.0,1210.3 1513.1,1211.3 1532.3,1212.3 1551.4,1213.3 1570.6,1214.2 1589.7,1215.1 1608.9,1216.0 1628.0,1216.9 1647.2,1217.7 1666.3,1218.5 1685.5,1219.3 1704.6,1220.1 1723.8,1220.8 1742.9,1221.5 1762.1,1222.7 1781.2,1224.0 1800.4,1225.4 1819.5,1226.6 1838.7,1227.8 1857.8,1229.0 1877.0,1230.2 1896.1,1231.2 1915.3,1232.3 1934.4,1233.3 1953.6,1234.3 1972.7,1235.3 1991.9,1236.2 2011.0,1237.1 2030.2,1237.9 2049.3,1238.8 2068.5,1239.6 2087.6,1240.4 2106.8,1241.1 2125.9,1241.9 2145.1,1242.6 2164.2,1243.3 2183.4,1243.9 2190.6,1244.2" fill="none" stroke="#ff0000" stroke-width="21.5" stroke-linejoin="round" stroke-linecap="round"/>
</g>
<g font-size="80">
<g transform="translate(0,1300.5) scale(1,1.04)"><text x="199.5" y="0" text-anchor="end">0</text></g><g transform="translate(0,1100.8) scale(1,1.04)"><text x="158.9" y="0" clip-path="url(#c1y)">1</text></g><g transform="translate(0,901.2) scale(1,1.04)"><text x="199.5" y="0" text-anchor="end">2</text></g><g transform="translate(0,701.5) scale(1,1.04)"><text x="199.5" y="0" text-anchor="end">3</text></g><g transform="translate(0,501.8) scale(1,1.04)"><text x="199.5" y="0" text-anchor="end">4</text></g><g transform="translate(0,302.2) scale(1,1.04)"><text x="199.5" y="0" text-anchor="end">5</text></g><g transform="translate(0,102.5) scale(1,1.04)"><text x="199.5" y="0" text-anchor="end">6</text></g>
<g transform="translate(0,1395) scale(1,1.04)"><text x="269.8" y="0" text-anchor="middle">0</text></g><g transform="translate(0,1395) scale(1,1.04)"><text x="727.9" y="0" clip-path="url(#c1x)">1</text></g><g transform="translate(0,1395) scale(1,1.04)"><text x="1225.4" y="0" text-anchor="middle">2</text></g><g transform="translate(0,1395) scale(1,1.04)"><text x="1704.3" y="0" text-anchor="middle">3</text></g><g transform="translate(0,1395) scale(1,1.04)"><text x="2181.6" y="0" text-anchor="middle">4</text></g>
<text x="0" y="0" transform="translate(1060,1493.7) scale(1,1.04)" dx="-6.6">Period (s)</text>
<text x="0" y="0" transform="translate(98.6,1173.7) rotate(-90) scale(1,1.04)" textLength="983" lengthAdjust="spacing">Spectral Acceleration / <tspan font-style="italic">PGA</tspan></text>
</g>
<line x1="846" y1="230.5" x2="969" y2="230.5" stroke="#ff0000" stroke-width="21.3" stroke-linecap="round"/>
<text x="0" y="0" font-size="94.7" transform="translate(996.1,260.8) scale(1,1.04)" dx="-7.8" textLength="1067.8" lengthAdjust="spacing">Design spectrum of Korea</text>
</svg>
</body></html>
